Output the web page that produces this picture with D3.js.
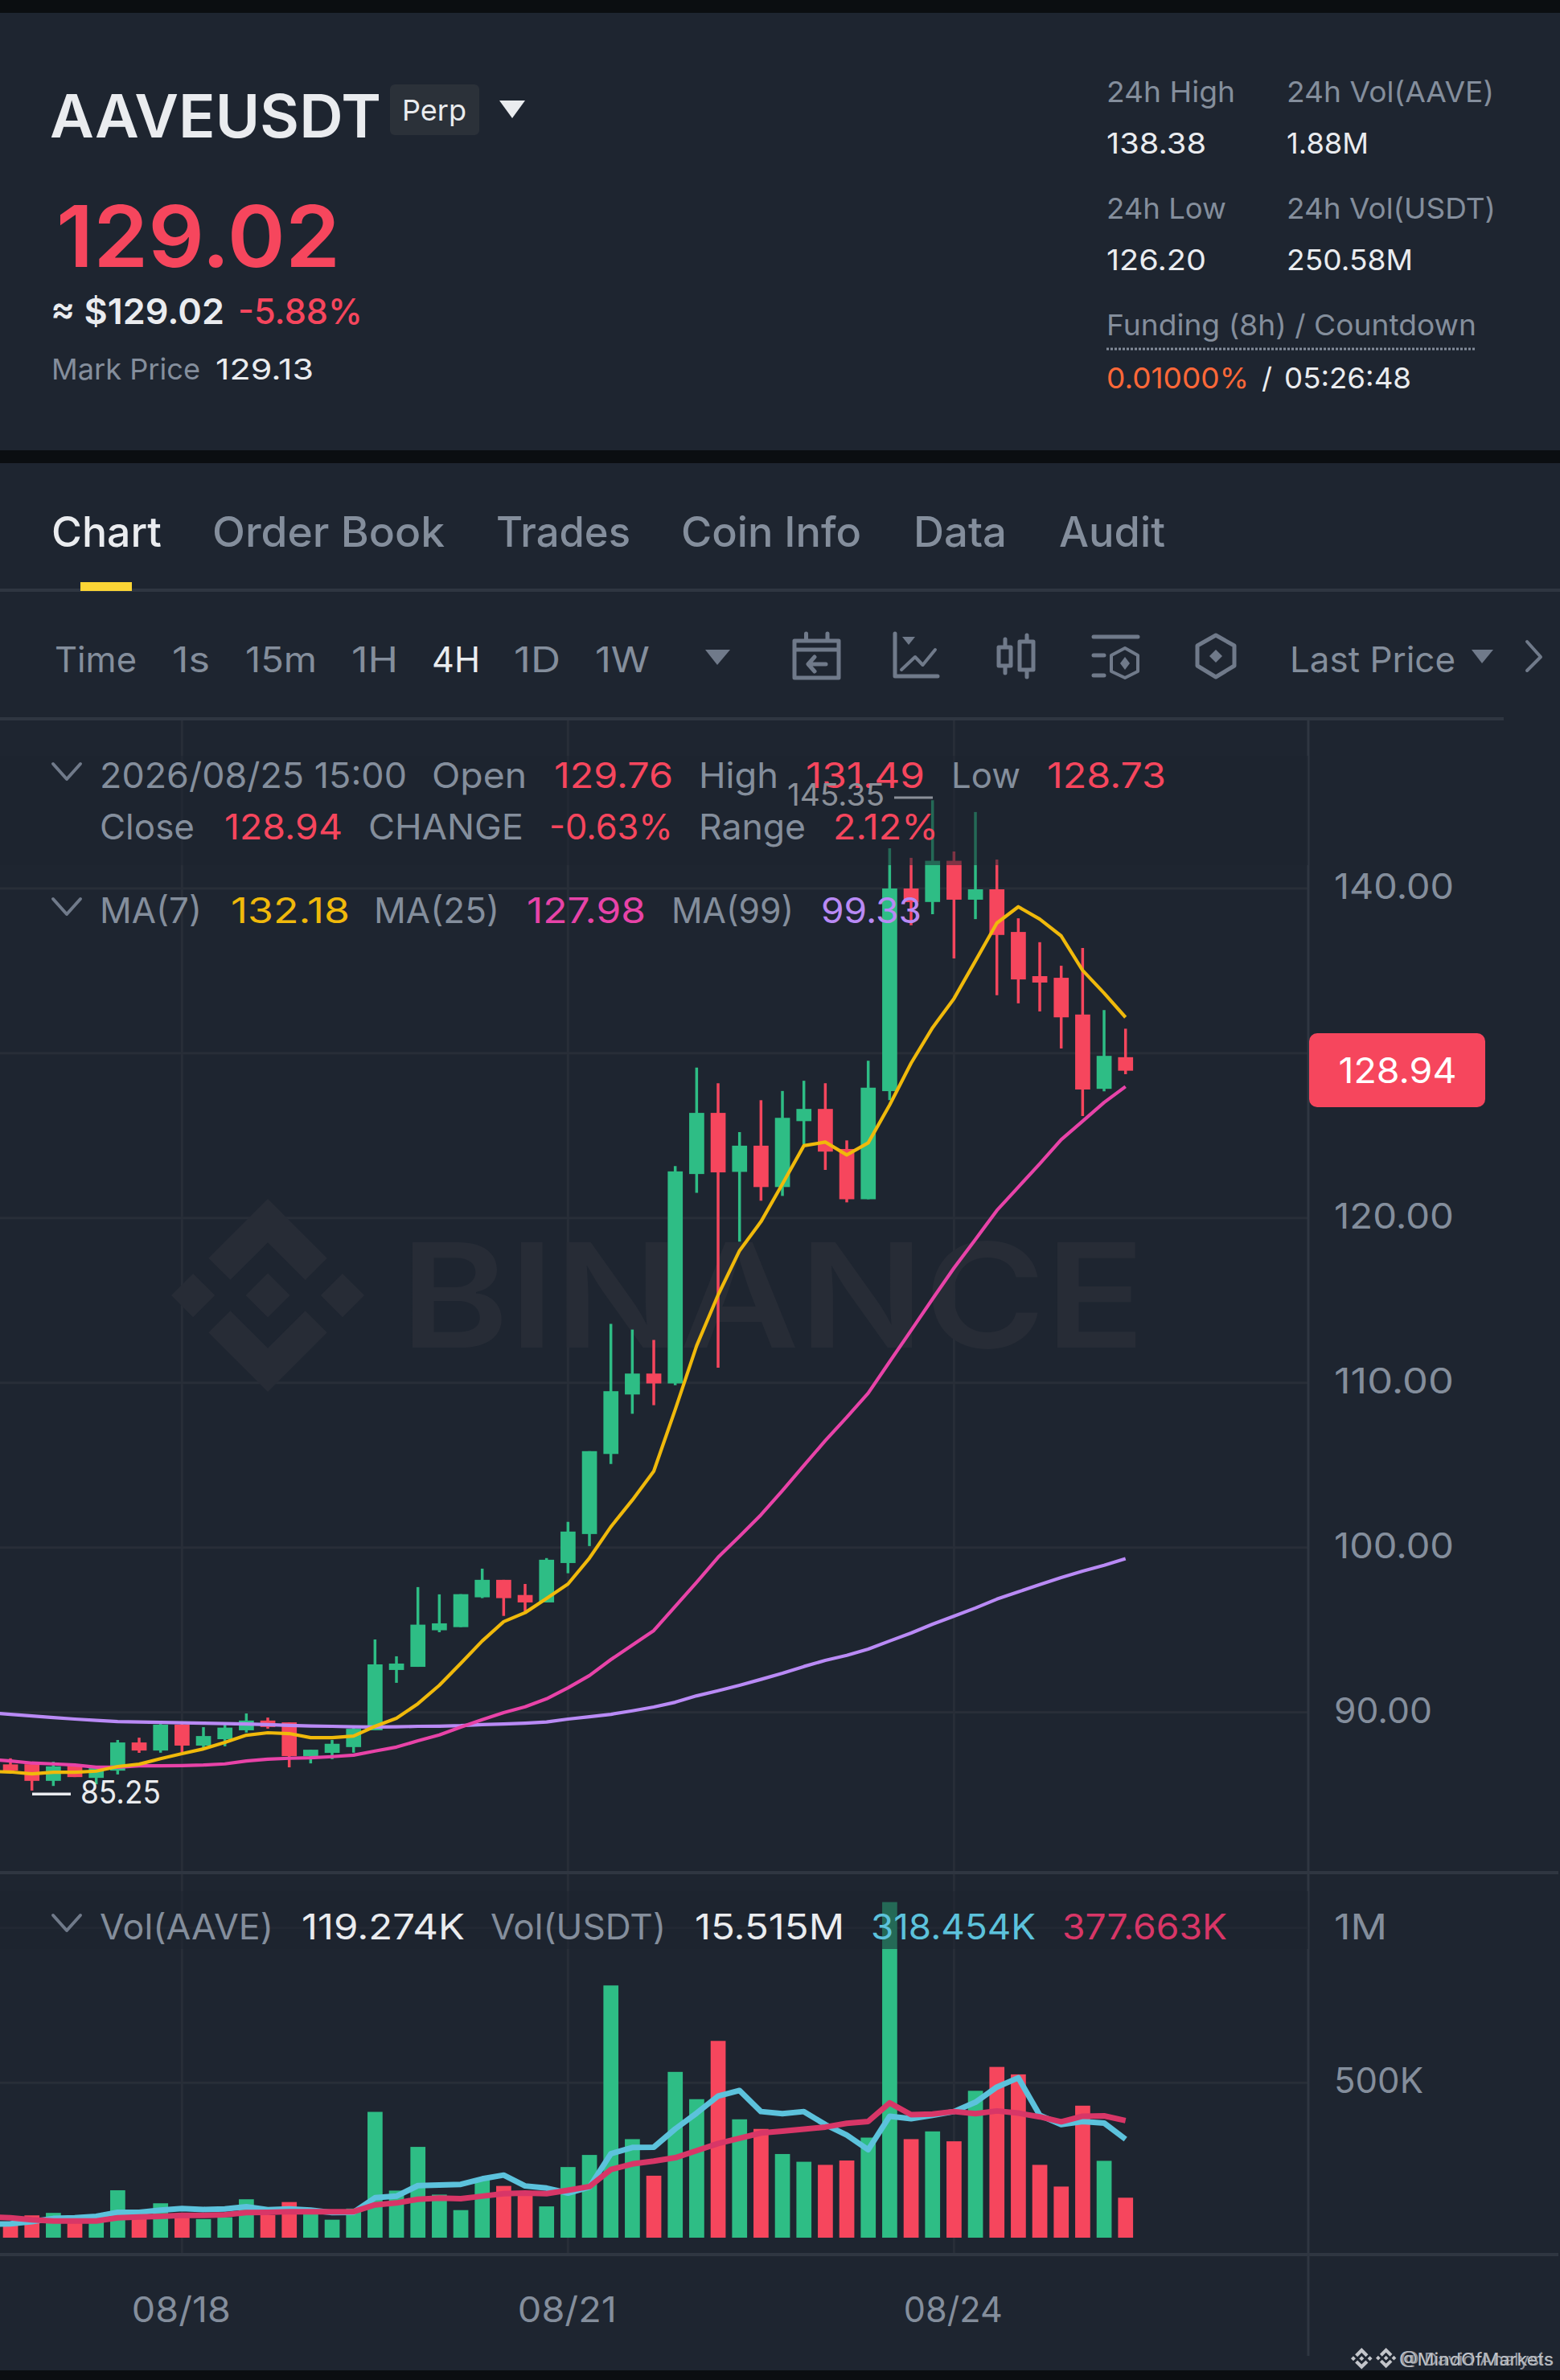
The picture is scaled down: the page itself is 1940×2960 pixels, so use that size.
<!DOCTYPE html>
<html><head><meta charset="utf-8">
<style>html,body{margin:0;padding:0;background:#0b0e11}svg{display:block}text{font-family:Inter,"Noto Sans",sans-serif}</style>
<script src="https://cdn.jsdelivr.net/npm/d3@7"></script>
</head><body><svg id="c" width="1940" height="2960"></svg>
<script>
const opens=[86.84,86.85,85.84,86.75,86.02,86.46,88.17,87.68,89.25,87.98,88.37,88.91,89.50,89.39,87.34,87.54,87.89,88.91,92.57,92.76,94.98,95.17,96.98,98.04,97.12,96.67,99.06,100.82,105.68,109.29,110.56,109.96,122.67,126.38,122.80,124.39,121.88,125.88,126.62,124.19,121.14,127.70,140.00,139.18,141.68,139.32,139.95,137.36,134.68,134.58,132.35,127.84,129.76];
const closes=[86.46,85.84,86.72,86.07,86.61,88.17,87.68,89.25,87.98,88.56,89.07,89.50,89.11,87.34,87.73,88.09,89.00,92.91,92.96,95.32,95.40,97.17,98.04,96.93,96.67,99.26,100.97,105.85,109.49,110.56,109.96,122.83,126.38,122.77,124.39,121.88,126.08,126.62,124.03,121.14,127.91,140.00,139.17,141.68,139.32,139.95,137.18,134.48,134.29,132.18,127.80,129.84,128.94];
const highs=[87.21,86.95,87.00,86.85,86.67,88.32,88.46,89.29,89.34,89.10,89.25,89.93,89.68,89.39,87.73,88.32,89.05,94.42,93.40,97.60,97.16,97.17,98.72,98.04,97.79,99.36,101.56,105.85,113.57,113.23,112.60,123.15,129.13,128.18,125.21,127.15,127.71,128.33,128.18,124.71,129.55,142.44,141.86,145.35,142.25,144.64,141.76,138.19,136.74,135.31,136.39,132.62,131.49];
const lows=[86.46,85.25,85.53,86.07,85.63,86.23,87.54,87.55,87.58,87.84,87.94,88.77,89.01,86.66,86.90,87.16,87.55,88.91,91.79,92.76,94.86,95.17,96.93,95.85,96.13,96.67,98.44,100.09,105.07,108.12,108.64,109.86,121.53,110.91,118.56,121.05,121.34,124.47,122.92,120.95,121.14,127.15,137.77,138.44,135.75,138.14,133.52,133.03,132.54,130.29,126.19,127.69,128.73];
// moving averages: first value belongs to the candle just left of the frame
const ma7=[86.41,86.38,86.27,86.36,86.36,86.43,86.71,86.85,87.19,87.49,87.78,88.17,88.61,88.76,88.71,88.46,88.46,88.56,89.15,89.64,90.52,91.64,92.97,94.33,95.50,96.05,96.91,97.79,99.36,101.26,102.88,104.63,108.37,112.25,115.33,118.02,119.78,122.07,124.39,124.61,123.83,124.56,126.86,129.40,131.55,133.32,135.60,137.90,138.89,138.14,137.12,135.03,133.65,132.18];
const ma25=[87.14,87.05,86.92,86.87,86.80,86.67,86.67,86.75,86.75,86.77,86.80,86.87,87.05,87.16,87.21,87.24,87.31,87.40,87.65,87.89,88.27,88.63,89.10,89.55,89.98,90.33,90.82,91.49,92.23,93.20,94.08,94.96,96.43,97.89,99.41,100.68,101.99,103.46,104.98,106.49,107.91,109.37,111.28,113.18,115.09,116.97,118.70,120.46,121.88,123.29,124.76,125.88,127.01,127.98];
const ma99=[89.98,89.88,89.78,89.68,89.59,89.51,89.44,89.41,89.39,89.36,89.34,89.32,89.29,89.25,89.21,89.17,89.15,89.12,89.11,89.12,89.15,89.16,89.19,89.25,89.29,89.34,89.41,89.59,89.73,89.88,90.09,90.32,90.61,91.00,91.31,91.64,92.00,92.37,92.78,93.15,93.46,93.84,94.33,94.81,95.35,95.84,96.33,96.87,97.31,97.75,98.18,98.57,98.92,99.33];
const volumes=[50,72,80,50,50,153,61,111,76,60,66,124,73,115,81,58,94,406,152,293,139,89,190,167,149,101,228,267,814,318,200,535,447,635,382,351,270,245,235,249,323,1083,318,343,311,474,551,527,235,165,426,248,129];
const volMa1=[43,45,52,62,64,69,82,82,89,94,91,93,100,90,93,89,81,82,129,134,168,170,172,190,202,167,160,144,163,271,291,292,351,402,457,475,407,400,407,365,331,284,392,384,395,407,437,486,516,395,365,375,370,318];
const volMa2=[67,64,58,54,54,54,64,67,69,72,72,74,81,82,84,84,84,84,106,112,124,128,126,134,142,144,142,153,165,220,238,247,258,281,304,321,338,344,350,357,369,375,435,397,399,407,400,409,402,390,374,392,393,378];
const priceTicks=[140,130,120,110,100,90];
const volTicks=[1000,500];
const dateTicks=[{i:8,label:"08/18"},{i:26,label:"08/21"},{i:44,label:"08/24"}];

const C={bg:"#1e2530",black:"#0b0e11",grid:"#282e38",line:"#2f3641",up:"#2ebd85",down:"#f6465d",grey:"#848e9c",white:"#eaecef",icon:"#707a8a",ma7:"#f0b90b",ma25:"#e843a8",ma99:"#b98af5",v1:"#5cc2dc",v2:"#d83667"};
const svg=d3.select("#c");
const x=d3.scaleLinear().domain([0,52]).range([13,1399.7]);
const y=d3.scaleLinear().domain([90,140]).range([2129.6,1105]);
const v=d3.scaleLinear().domain([0,500]).range([2783,2590.3]);
const LOGO="M38.73 53.2L63.3 28.63l24.59 24.59 14.3-14.3L63.3 0 24.42 38.88zM0 63.31l14.3-14.3 14.3 14.3-14.3 14.3zM38.73 73.41L63.3 97.98l24.59-24.59 14.31 14.29-.01.01L63.3 126.61 24.42 87.73l-.02-.02zM98.01 63.31l14.3-14.3 14.3 14.3-14.3 14.3zM77.8 63.3L63.3 48.78 52.58 59.5l-1.23 1.23-2.54 2.54 14.49 14.5 14.5-14.46z";

function rect(g,a,b,w,h,f,rx){return g.append("rect").attr("x",a).attr("y",b).attr("width",w).attr("height",h).attr("fill",f).attr("rx",rx||0);}
function T(g,px,py,s,size,color,w,opt){opt=opt||{};const t=g.append("text").attr("x",px).attr("y",py).attr("font-size",size).attr("fill",color).attr("font-weight",opt.weight||400).attr("text-anchor",opt.anchor||"start").text(s);
 if(w){t.attr("textLength",w).attr("lengthAdjust","spacingAndGlyphs");} if(opt.op)t.attr("opacity",opt.op);return t;}
function P(g,d,stroke,sw,fill){return g.append("path").attr("d",d).attr("stroke",stroke||"none").attr("stroke-width",sw||0).attr("fill",fill||"none").attr("stroke-linecap","round").attr("stroke-linejoin","round");}

// page frame
rect(svg,0,0,1940,2960,C.bg);
rect(svg,0,0,1940,16,C.black);
rect(svg,0,560,1940,16,C.black);
rect(svg,0,2948,1940,12,C.black);

// header
const h=svg.append("g");
T(h,62,171,"AAVEUSDT",74,C.white,412,{weight:600});
rect(h,485,105,111,63,"#2b3139",6);
T(h,540,150,"Perp",36,C.white,80,{anchor:"middle"});
P(h,"M621 125H653L637 147Z",null,0,C.white);
T(h,70,332,"129.02",106,C.down,353,{weight:600});
T(h,63,403,"≈ $129.02",44,C.white,216,{weight:600});
T(h,296,403,"-5.88%",44,C.down,155,{weight:500});
T(h,64,472,"Mark Price",36,C.grey,185);
T(h,268,472,"129.13",36,C.white,122);
T(h,1376,127,"24h High",36,C.grey,160);
T(h,1600,127,"24h Vol(AAVE)",36,C.grey,258);
T(h,1376,191,"138.38",36,C.white,124);
T(h,1600,191,"1.88M",36,C.white,102);
T(h,1376,272,"24h Low",36,C.grey,149);
T(h,1600,272,"24h Vol(USDT)",36,C.grey,260);
T(h,1376,336,"126.20",36,C.white,124);
T(h,1600,336,"250.58M",36,C.white,157);
T(h,1376,417,"Funding (8h) / Countdown",36,C.grey,460);
h.append("line").attr("x1",1376).attr("x2",1836).attr("y1",434).attr("y2",434).attr("stroke",C.grey).attr("stroke-width",3).attr("stroke-dasharray","3 2");
T(h,1376,483,"0.01000%",36,"#ff6838",177);
T(h,1569,483,"/",36,C.white,null);
T(h,1597,483,"05:26:48",36,C.white,158);

// tabs
const tabs=svg.append("g");
T(tabs,64,680,"Chart",52,C.white,137,{weight:500});
T(tabs,264,680,"Order Book",52,C.grey,289,{weight:500});
T(tabs,617,680,"Trades",52,C.grey,167,{weight:500});
T(tabs,847,680,"Coin Info",52,C.grey,224,{weight:500});
T(tabs,1136,680,"Data",52,C.grey,116,{weight:500});
T(tabs,1317,680,"Audit",52,C.grey,132,{weight:500});
rect(tabs,0,732,1940,4,C.line);
rect(tabs,100,724,64,11,"#fcd535");

// toolbar
const tb=svg.append("g");
[["Time",68,102,C.grey],["1s",214,47,C.grey],["15m",305,89,C.grey],["1H",437,58,C.grey],["4H",537,60,C.white],["1D",639,58,C.grey],["1W",740,68,C.grey]].forEach(d=>T(tb,d[1],836,d[0],44,d[3],d[2]));
T(tb,1604,836,"Last Price",44,C.grey,206);
P(tb,"M877 808H908L892 827Z",null,0,C.icon);
P(tb,"M1830 808H1857L1843 825Z",null,0,C.icon);
P(tb,"M1899 798L1916 817L1899 834",C.icon,4);
P(tb,"M988 797H1043V843H988ZM988 808H1043M1002.5 788V797M1029 788V797M1027 826H1006M1013 817L1005 826L1013 835",C.icon,5);
P(tb,"M1113 788V841H1166",C.icon,5);
P(tb,"M1122 792H1138L1130 802Z",null,0,C.icon);
P(tb,"M1121 833L1138 817L1147.5 827L1163 808",C.icon,4);
P(tb,"M1242 805H1257V828H1242ZM1250 795V805M1250 828V837M1268 798H1285V833H1268ZM1277 790V798M1277 833V842",C.icon,5);
P(tb,"M1360 792H1415M1360 815H1373M1360 840H1373",C.icon,5);
P(tb,"M1399 806L1415 815V835L1399 843L1382 835V815Z",C.icon,4);
P(tb,"M1399 817L1405 825L1399 833L1393 825Z",null,0,C.icon);
P(tb,"M1512 790L1535 803V828L1512 842L1489 828V803Z",C.icon,5);
P(tb,"M1512 808L1520 816L1512 824L1504 816Z",null,0,C.icon);

// grid
const grid=svg.append("g");
dateTicks.forEach(d=>rect(grid,x(d.i)-1.5,896,3,1908,C.grid));
priceTicks.forEach(p=>rect(grid,0,y(p)-1.5,1627,3,C.grid));
volTicks.forEach(t=>rect(grid,0,v(t)-1.5,1627,3,C.grid));

// watermark
const wm=svg.append("g");
wm.append("path").attr("d",LOGO).attr("fill","#272c36").attr("transform","translate(213,1491) scale(1.896)");
T(wm,498,1676,"BINANCE",180,"#272c36",926,{weight:600});

// frame lines
const fr=svg.append("g");
rect(fr,0,892,1870,4,C.line);
rect(fr,1625.5,894,3,2036,C.line);
rect(fr,0,2327,1938,4,C.line);
rect(fr,0,2802,1938,4,C.line);

// candles
const idx=d3.range(opens.length);
const cg=svg.append("g");
cg.selectAll("line").data(idx).join("line")
 .attr("x1",i=>x(i)).attr("x2",i=>x(i)).attr("y1",i=>y(highs[i])).attr("y2",i=>y(lows[i]))
 .attr("stroke",i=>closes[i]>=opens[i]?C.up:C.down).attr("stroke-width",3.5);
cg.selectAll("rect").data(idx).join("rect")
 .attr("x",i=>x(i)-9.3).attr("width",18.7)
 .attr("y",i=>y(Math.max(opens[i],closes[i])))
 .attr("height",i=>Math.max(2,Math.abs(y(opens[i])-y(closes[i]))))
 .attr("fill",i=>closes[i]>=opens[i]?C.up:C.down);

// price moving averages
const lineP=d3.line().x((d,i)=>x(i-1)).y(d=>y(d));
[[ma99,C.ma99],[ma25,C.ma25],[ma7,C.ma7]].forEach(a=>P(svg,lineP(a[0]),a[1],4.2).attr("stroke-linecap","butt"));

// volume
const vg=svg.append("g");
vg.selectAll("rect").data(idx).join("rect")
 .attr("x",i=>x(i)-9.3).attr("width",18.7)
 .attr("y",i=>v(volumes[i])).attr("height",i=>v(0)-v(volumes[i]))
 .attr("fill",i=>closes[i]>=opens[i]?C.up:C.down);
const lineV=d3.line().x((d,i)=>x(i-1)).y(d=>v(d));
P(svg,lineV(volMa1),C.v1,7).attr("stroke-linecap","butt");
P(svg,lineV(volMa2),C.v2,7).attr("stroke-linecap","butt");

// legend dimming
rect(svg,0,940,1627,136,C.bg).attr("opacity",0.55);
rect(svg,0,2352,1627,72,C.bg).attr("opacity",0.55);

// price legend
const lg=svg.append("g");
const chev=(px,py)=>P(lg,`M${px} ${py}L${px+17} ${py+19}L${px+34} ${py}`,C.icon,4);
chev(66,950);
T(lg,124,980,"2026/08/25 15:00",44,C.grey,382);
T(lg,537,980,"Open",44,C.grey,118);
T(lg,689,980,"129.76",44,C.down,148);
T(lg,869,980,"High",44,C.grey,99);
T(lg,1002,980,"131.49",44,C.down,148);
T(lg,1183,980,"Low",44,C.grey,86);
T(lg,1302,980,"128.73",44,C.down,148);
T(lg,124,1044,"Close",44,C.grey,118);
T(lg,279,1044,"128.94",44,C.down,147);
T(lg,458,1044,"CHANGE",44,C.grey,193);
T(lg,683,1044,"-0.63%",44,C.down,154);
T(lg,869,1044,"Range",44,C.grey,133);
T(lg,1036,1044,"2.12%",44,C.down,131);
chev(66,1118);
T(lg,124,1148,"MA(7)",44,C.grey,127);
T(lg,287,1148,"132.18",44,C.ma7,148);
T(lg,465,1148,"MA(25)",44,C.grey,156);
T(lg,655,1148,"127.98",44,C.ma25,148);
T(lg,835,1148,"MA(99)",44,C.grey,152);
T(lg,1021,1148,"99.33",44,C.ma99,125);
// volume legend
chev(66,2382);
T(lg,124,2412,"Vol(AAVE)",44,C.grey,216);
T(lg,375,2412,"119.274K",44,C.white,203);
T(lg,610,2412,"Vol(USDT)",44,C.grey,218);
T(lg,864,2412,"15.515M",44,C.white,186);
T(lg,1083,2412,"318.454K",44,C.v1,205);
T(lg,1321,2412,"377.663K",44,C.v2,205);

// extreme labels
const ex=svg.append("g");
T(ex,979,1002,"145.35",38,"#8b9099",121);
rect(ex,1112,990.5,48,3,"#8b9099");
T(ex,100,2243,"85.25",40,C.white,100);
rect(ex,40,2229.5,48,3.5,C.white);

// axis labels
const ax=svg.append("g");
priceTicks.filter(p=>p!==130).forEach(p=>T(ax,1659,y(p)+13,d3.format(".2f")(p),44,C.grey,p>=100?149:122));
T(ax,1659,v(1000)+14,"1M",44,C.grey,66);
T(ax,1659,v(500)+13,"500K",44,C.grey,111);
dateTicks.forEach(d=>T(ax,x(d.i)-1,2888,d.label,44,C.grey,123,{anchor:"middle"}));

// last price tag
rect(ax,1628,1285,219,92,C.down,10);
T(ax,1738,1347,"128.94",44,"#ffffff",147,{anchor:"middle"});

// footer
const ft=svg.append("g").attr("opacity",0.85);
ft.append("path").attr("d",LOGO).attr("fill","#e0e2e6").attr("transform","translate(1680,2920) scale(0.21)");
ft.append("path").attr("d",LOGO).attr("fill","#e0e2e6").attr("transform","translate(1711,2920) scale(0.2)");
T(ft,1740,2942,"@MindOfMarkets",22,"#e0e2e6",192);
T(ft,1742,2942,"@ David Analysis",22,"#c8cbd0",190,{op:.8});
</script></body></html>
